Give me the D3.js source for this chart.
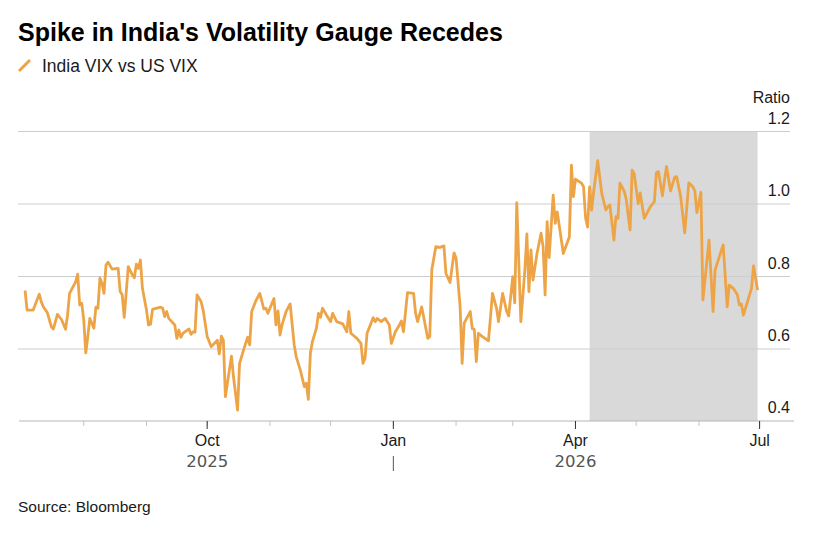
<!doctype html>
<html lang="en">
<head>
	<meta charset="UTF-8">
	<title>Spike in India's Volatility Gauge Recedes</title>
	<script src="https://cdn.jsdelivr.net/npm/d3@7/dist/d3.min.js"></script>
	<style>
		body {
			margin: 0;
			background: #fff;
			font-family: "Liberation Sans", Arial, sans-serif;
		}
		.title { font-size: 25px; font-weight: bold; fill: #000; }
		.subtitle { font-size: 17.5px; fill: #1a1a1a; }
		.source { font-size: 15.5px; fill: #1a1a1a; }
		.y-axis text, .y-label { font-size: 16px; fill: #1a1a1a; }
		.y-axis line { stroke: #cdcdcd; }
		.x-axis text { font-size: 16px; fill: #1a1a1a; }
		.x-axis text.year { font-family: "DejaVu Sans", sans-serif; font-size: 16.5px; fill: #555; }
	</style>
</head>
<body>
	<svg id="chart" width="837" height="534"></svg>
	<script>
		// India VIX / US VIX ratio
		var vixRatio = [
			["2025-07-03",0.76],["2025-07-04",0.706],["2025-07-07",0.706],["2025-07-10",0.75],
			["2025-07-11",0.729],["2025-07-12",0.715],["2025-07-14",0.699],["2025-07-16",0.66],
			["2025-07-17",0.654],["2025-07-19",0.694],["2025-07-21",0.68],["2025-07-23",0.653],
			["2025-07-24",0.692],["2025-07-25",0.752],["2025-07-28",0.784],["2025-07-29",0.805],
			["2025-07-30",0.72],["2025-07-31",0.725],["2025-08-01",0.679],["2025-08-02",0.588],
			["2025-08-03",0.633],["2025-08-04",0.683],["2025-08-06",0.656],["2025-08-07",0.714],
			["2025-08-08",0.711],["2025-08-09",0.794],["2025-08-10",0.78],["2025-08-11",0.752],
			["2025-08-12",0.83],["2025-08-13",0.838],["2025-08-15",0.819],["2025-08-18",0.821],
			["2025-08-19",0.757],["2025-08-20",0.748],["2025-08-21",0.686],["2025-08-23",0.826],
			["2025-08-25",0.803],["2025-08-26",0.795],["2025-08-27",0.833],["2025-08-28",0.821],
			["2025-08-29",0.844],["2025-08-30",0.766],["2025-09-01",0.706],["2025-09-02",0.665],
			["2025-09-03",0.667],["2025-09-04",0.708],["2025-09-08",0.714],["2025-09-09",0.711],
			["2025-09-10",0.688],["2025-09-11",0.702],["2025-09-12",0.683],["2025-09-15",0.665],
			["2025-09-16",0.628],["2025-09-17",0.651],["2025-09-18",0.631],["2025-09-19",0.642],
			["2025-09-22",0.654],["2025-09-23",0.639],["2025-09-24",0.646],["2025-09-25",0.645],
			["2025-09-26",0.748],["2025-09-28",0.729],["2025-09-29",0.706],["2025-10-01",0.633],
			["2025-10-03",0.605],["2025-10-06",0.623],["2025-10-07",0.585],["2025-10-08",0.634],
			["2025-10-09",0.623],["2025-10-10",0.467],["2025-10-13",0.579],["2025-10-14",0.522],
			["2025-10-16",0.43],["2025-10-17",0.559],["2025-10-19",0.596],["2025-10-21",0.631],
			["2025-10-22",0.61],["2025-10-23",0.702],["2025-10-25",0.731],["2025-10-27",0.752],
			["2025-10-29",0.709],["2025-10-30",0.711],["2025-10-31",0.697],["2025-11-03",0.738],
			["2025-11-04",0.665],["2025-11-05",0.704],["2025-11-06",0.637],["2025-11-07",0.665],
			["2025-11-09",0.702],["2025-11-11",0.723],["2025-11-13",0.61],["2025-11-14",0.577],
			["2025-11-16",0.541],["2025-11-18",0.495],["2025-11-19",0.504],["2025-11-20",0.46],
			["2025-11-21",0.587],["2025-11-22",0.619],["2025-11-24",0.656],["2025-11-25",0.697],
			["2025-11-26",0.686],["2025-11-27",0.711],["2025-11-29",0.692],["2025-12-01",0.674],
			["2025-12-02",0.697],["2025-12-04",0.674],["2025-12-07",0.668],["2025-12-09",0.646],
			["2025-12-10",0.702],["2025-12-11",0.642],["2025-12-14",0.628],["2025-12-16",0.614],
			["2025-12-17",0.559],["2025-12-18",0.573],["2025-12-19",0.642],["2025-12-21",0.67],
			["2025-12-22",0.685],["2025-12-23",0.674],["2025-12-24",0.683],["2025-12-26",0.674],
			["2025-12-28",0.683],["2025-12-30",0.665],["2025-12-31",0.614],["2026-01-02",0.646],
			["2026-01-04",0.665],["2026-01-05",0.676],["2026-01-06",0.646],["2026-01-08",0.754],
			["2026-01-11",0.752],["2026-01-12",0.697],["2026-01-13",0.674],["2026-01-15",0.715],
			["2026-01-18",0.628],["2026-01-19",0.633],["2026-01-20",0.817],["2026-01-22",0.881],
			["2026-01-24",0.879],["2026-01-26",0.883],["2026-01-27",0.807],["2026-01-29",0.782],
			["2026-01-31",0.864],["2026-02-01",0.849],["2026-02-03",0.715],["2026-02-04",0.559],
			["2026-02-05",0.67],["2026-02-08",0.702],["2026-02-09",0.655],["2026-02-10",0.653],
			["2026-02-11",0.564],["2026-02-12",0.642],["2026-02-14",0.633],["2026-02-17",0.621],
			["2026-02-19",0.752],["2026-02-21",0.711],["2026-02-22",0.674],["2026-02-24",0.752],
			["2026-02-26",0.702],["2026-02-27",0.69],["2026-03-01",0.798],["2026-03-02",0.726],
			["2026-03-03",1.002],["2026-03-05",0.674],["2026-03-07",0.817],["2026-03-08",0.916],
			["2026-03-09",0.757],["2026-03-10",0.872],["2026-03-11",0.789],["2026-03-13",0.862],
			["2026-03-15",0.918],["2026-03-16",0.881],["2026-03-17",0.748],["2026-03-18",0.95],
			["2026-03-19",0.851],["2026-03-21",1.023],["2026-03-22",0.945],["2026-03-23",0.977],
			["2026-03-26",0.862],["2026-03-29",0.908],["2026-03-30",1.106],["2026-03-31",1.019],
			["2026-04-01",1.067],["2026-04-04",1.056],["2026-04-05",1.046],["2026-04-06",0.96],
			["2026-04-07",0.935],["2026-04-08",1.046],["2026-04-09",0.982],["2026-04-10",1.033],
			["2026-04-12",1.118],["2026-04-14",1.028],["2026-04-16",0.982],["2026-04-17",0.991],
			["2026-04-18",0.996],["2026-04-20",0.899],["2026-04-21",0.964],["2026-04-22",0.959],
			["2026-04-23",1.056],["2026-04-25",1.035],["2026-04-26",1.014],["2026-04-28",0.927],
			["2026-04-29",1.092],["2026-04-30",1.083],["2026-05-02",1.0],["2026-05-03",1.029],
			["2026-05-05",0.959],["2026-05-08",0.991],["2026-05-10",1.005],["2026-05-11",1.085],
			["2026-05-12",1.088],["2026-05-14",1.021],["2026-05-15",1.065],["2026-05-16",1.102],
			["2026-05-18",1.035],["2026-05-20",1.072],["2026-05-21",1.074],["2026-05-23",1.019],
			["2026-05-25",0.919],["2026-05-27",1.057],["2026-05-29",1.046],["2026-05-30",1.035],
			["2026-05-31",0.975],["2026-06-02",1.031],["2026-06-03",0.734],["2026-06-06",0.899],
			["2026-06-08",0.702],["2026-06-09",0.817],["2026-06-13",0.886],["2026-06-15",0.715],
			["2026-06-16",0.775],["2026-06-18",0.766],["2026-06-20",0.748],["2026-06-21",0.72],
			["2026-06-22",0.723],["2026-06-23",0.692],["2026-06-27",0.766],["2026-06-28",0.828],
			["2026-06-30",0.761]
		];

		var shadedPeriod = ["2026-04-08", "2026-06-30"];
		var xDomain = ["2025-06-30", "2026-07-18"];
		var yTicks = [0.4, 0.6, 0.8, 1.0, 1.2];
		var quarterLabels = [
			{date: "2025-10-01", label: "Oct", year: "2025"},
			{date: "2026-01-01", label: "Jan", year: "|"},
			{date: "2026-04-01", label: "Apr", year: "2026"},
			{date: "2026-07-01", label: "Jul", year: ""}
		];

		var parseDate = d3.utcParse("%Y-%m-%d");
		var lineColor = "#eda447";

		var svg = d3.select("#chart");

		var xScale = d3.scaleUtc()
			.domain(xDomain.map(parseDate))
			.range([19, 794]);

		var yScale = d3.scaleLinear()
			.domain([0.4, 1.2])
			.range([421, 131]);

		// header
		svg.append("text").attr("class", "title")
			.attr("x", 18).attr("y", 41)
			.text("Spike in India's Volatility Gauge Recedes");

		svg.append("line")
			.attr("x1", 19).attr("y1", 71).attr("x2", 30).attr("y2", 60)
			.attr("stroke", lineColor).attr("stroke-width", 3);

		svg.append("text").attr("class", "subtitle")
			.attr("x", 42).attr("y", 72)
			.text("India VIX vs US VIX");

		// shaded period
		svg.append("rect")
			.attr("x", xScale(parseDate(shadedPeriod[0])))
			.attr("y", yScale(1.2))
			.attr("width", xScale(parseDate(shadedPeriod[1])) - xScale(parseDate(shadedPeriod[0])))
			.attr("height", yScale(0.4) - yScale(1.2))
			.attr("fill", "#d9d9d9");

		// y grid + labels on the right
		var yAxis = svg.append("g")
			.attr("class", "y-axis")
			.attr("transform", "translate(18,0)")
			.call(d3.axisRight(yScale)
				.tickValues(yTicks.filter(function(d) { return d > 0.4; }))
				.tickSize(772)
				.tickFormat(d3.format(".1f")));

		yAxis.select(".domain").remove();
		yAxis.selectAll("text")
			.attr("x", 772)
			.attr("dy", -8)
			.attr("text-anchor", "end");

		// label for bottom line
		svg.append("text")
			.attr("class", "y-label")
			.attr("x", 790).attr("y", yScale(0.4) - 8)
			.attr("text-anchor", "end")
			.text(d3.format(".1f")(yTicks[0]));

		svg.append("text")
			.attr("class", "y-label")
			.attr("x", 790).attr("y", 103)
			.attr("text-anchor", "end")
			.text("Ratio");

		// the line
		var line = d3.line()
			.x(function(d) { return xScale(parseDate(d[0])); })
			.y(function(d) { return yScale(d[1]); });

		svg.append("path")
			.datum(vixRatio)
			.attr("fill", "none")
			.attr("stroke", lineColor)
			.attr("stroke-width", 2.8)
			.attr("stroke-linejoin", "round")
			.attr("d", line);

		// x axis
		var months = d3.utcMonth.range(parseDate("2025-08-01"), parseDate("2026-07-02"));
		var xAxis = svg.append("g")
			.attr("class", "x-axis")
			.attr("transform", "translate(0," + yScale(0.4) + ")");

		xAxis.append("line")
			.attr("x1", 19).attr("x2", 794)
			.attr("stroke", "#b5b5b5");

		xAxis.selectAll(".minor")
			.data(months)
			.enter()
			.append("line")
			.attr("x1", function(d) { return xScale(d); })
			.attr("x2", function(d) { return xScale(d); })
			.attr("y2", 5)
			.attr("stroke", "#c4c4c4");

		var quarters = xAxis.selectAll(".quarter")
			.data(quarterLabels)
			.enter()
			.append("g")
			.attr("transform", function(d) { return "translate(" + xScale(parseDate(d.date)) + ",0)"; });

		quarters.append("line")
			.attr("y2", 8)
			.attr("stroke", "#333");

		quarters.append("text")
			.attr("y", 25)
			.attr("text-anchor", "middle")
			.text(function(d) { return d.label; });

		quarters.filter(function(d) { return d.year === "|"; })
			.append("line")
			.attr("y1", 35).attr("y2", 50)
			.attr("stroke", "#555");

		quarters.filter(function(d) { return d.year && d.year !== "|"; })
			.append("text")
			.attr("class", "year")
			.attr("y", 46)
			.attr("text-anchor", "middle")
			.text(function(d) { return d.year; });

		svg.append("text").attr("class", "source")
			.attr("x", 18).attr("y", 512)
			.text("Source: Bloomberg");
	</script>
</body>
</html>
